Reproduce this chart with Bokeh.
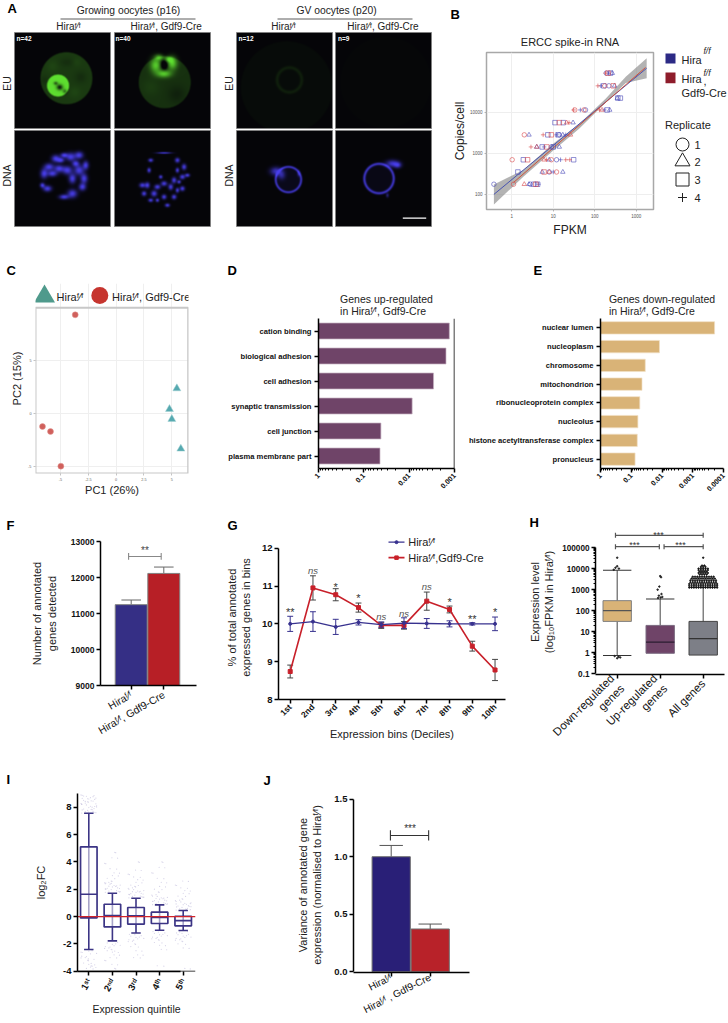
import math
import numpy as np
from bokeh.plotting import figure
from bokeh.layouts import column, row
from bokeh.models import Range1d, FactorRange, FixedTicker, Label, Span, Title
from bokeh.embed import file_html
from bokeh.resources import INLINE

FF = "\u1da0\u2044\u1da0"
HIRA = "Hira" + FF
CRE = "Hira" + FF + ", Gdf9-Cre"
FONT = "Liberation Sans"

eu1 = [("d",51.7,46,26,.24),("g",66,45,4,4,-.06),("g",52,30,5,3,-.05),("g",38,34,4,4,.05),("g",60,60,4,4,.05),("g",30,48,3,3,-.05),("g",62,30,3,3,.04),
       ("d",43.3,53.3,11,.75),("g",45,55,2.2,2,-.9),("g",41,51,1.5,1.2,-.6),("g",50,59,1.5,1.5,-.5)]
eu2 = [("d",50,50,26,.2),("g",62,62,6,6,-.07),("g",36,55,6,6,.05),
       ("g",41,33,3.8,5,.7),("g",57.5,31,3.5,4.5,.7),("g",49.3,41.5,5,2.6,.7),("g",44.3,25,3,2,.6),("g",54,27,3,2,.6),
       ("g",49.5,32.5,2.4,3.2,-.75)]
eu3 = [("d",50,55,46,.03),("r",52.7,47.7,12.3,1.2,.09)]
eu4 = [("d",50,50,46,.012)]
dna1_zoom = [(210,470,4,3.5),(235,465,3.5,3),(165,475,3.5,3),(145,500,4,3),(130,520,3,4),(200,510,4,3.5),(235,510,4,4),
             (255,495,2.5,3.5),(250,535,3,4),(245,560,3,3),(215,580,4,3.5),(190,590,4,2),(140,565,3.5,2.5),(215,535,3,4),
             (175,505,4,3),(125,555,2,2),(225,490,3,2.5),(190,465,3,2),(155,520,4,2.5),(180,480,3,2)]
dna2_zoom = [(490,458,6,.7),(450,480,2,1.5),(530,480,2,2),(550,500,2,2.5),(545,530,2.2,2),(560,525,2,1.5),(520,540,2,2.5),
             (490,550,2.5,2),(510,560,2,2.5),(470,560,2.5,2),(440,555,2,2.5),(425,555,2.5,2),(430,580,2,2),(460,580,2.5,2.5),
             (490,590,2,2),(520,590,2,2),(500,615,2,1.5),(450,600,2,1.5),(545,565,2,2),(530,570,1.5,2),(480,530,1.5,1.5),
             (445,510,1.5,2),(530,510,1.5,2),(470,600,1.5,1.5),(535,545,1.5,1.5)]
dna3 = [("r",51.7,49.3,12.7,.8,.85),("g",39.3,41,4,2.8,.8),("g",45,45,2.5,3,.5),("g",62,43.3,1,2,.5),("d",51.7,49.3,12,.08)]
dna4 = [("r",43.3,48.3,14.7,.9,.85),("g",56.7,33.3,4.5,2.4,.85),("g",62,35,2.5,2,.7),("g",51.7,65,1,1.5,.5),("d",43.3,48.3,14,.06)]
n_labels = ["n=42", "n=40", "n=12", "n=9"]

ercc_x_ticks = [1, 10, 100, 1000]
ercc_y_ticks = [100, 1000, 10000]
blue_circle = [(.37,177),(190,91000),(220,44600),(60,11500),(14,2840),(9,1440),(12,700),(2.8,177),(8,352)]
blue_tri = [(265,91000),(300,44600),(350,22400),(30,5640),(2.6,2840),(17,2840),(4,1440),(14,1440),(8,700),(5.4,352),(17,352),(2.6,177),(230,11500)]
blue_square = [(165,44600),(240,91000),(360,22400),(415,22400),(11,5640),(17.4,5640),(7.4,2840),(13,2840),(5.4,1440),(10,1440),(1.9,700),(31,700),(3.4,177),(4.2,177),(1.4,352),(200,11500)]
blue_plus = [(219,91000),(140,44600),(45,11500),(170,11500),(12,2840),(6,1440),(15,700),(4.4,177),(20,2840),(10,352)]
red_circle = [(1.02,700),(2,2840),(55,11500),(1.1,177),(175,44600),(12,352),(9,700),(33,11500)]
red_tri = [(2,177),(26,2840),(4,1440),(21,5640),(150,11500),(6,700),(8,352)]
red_square = [(14,5640),(2.4,700),(6,352),(3.8,177),(280,44600),(9,2840),(7,1440),(210,91000)]
red_plus = [(182,91000),(119,44600),(31,11500),(24,5640),(5.7,2840),(2.9,1440),(6.9,700),(20,700),(25,700),(130,11500)]
blue_fit_x = [.37, 1790]
blue_fit_y = [100, 120000]
red_fit_x = [1.1, 1680]
red_fit_y = [195, 125000]
band_x = [.37, 1.9, 9.7, 42, 185, 560, 1790]
band_lo = [57, 270, 1150, 4000, 17500, 52000, 68000]
band_hi = [174, 395, 1700, 5200, 22000, 74000, 210000]

c_tick_x = [-5, -2.5, 0, 2.5, 5]
c_tick_y = [-5, 0, 5]
ko_pc1 = [-3.68, -6.62, -5.9, -4.97]
ko_pc2 = [9.31, -1.23, -1.7, -4.97]
wt_pc1 = [5.45, 4.79, 5.0, 5.81]
wt_pc2 = [2.36, 0.41, -0.53, -3.33]

d_terms = ["cation binding", "biological adhesion", "cell adhesion", "synaptic transmission", "cell junction", "plasma membrane part"]
d_p = [0.0013, 0.00154, 0.0029, 0.0086, 0.042, 0.044]
e_terms = ["nuclear lumen", "nucleoplasm", "chromosome", "mitochondrion", "ribonucleoprotein complex", "nucleolus",
           "histone acetyltransferase complex", "pronucleus"]
e_p = [0.000195, 0.0121, 0.035, 0.0447, 0.0527, 0.0608, 0.0637, 0.0752]

f_labels = [HIRA, CRE]
f_values = [11245, 12113]
f_errtop = [11375, 12290]
f_ticks = [9000, 10000, 11000, 12000, 13000]

g_labels = ["1st","2nd","3rd","4th","5th","6th","7th","8th","9th","10th"]
g_x = [1,2,3,4,5,6,7,8,9,10]
g_wt = [10.0,10.06,9.92,10.04,9.98,10.02,10.01,10.0,10.0,10.0]
g_wt_err = [.2,.26,.2,.07,.07,.14,.13,.08,.03,.18]
g_ko = [8.74,10.95,10.77,10.43,9.96,9.96,10.6,10.38,9.41,8.78]
g_ko_err = [.17,.32,.16,.12,.08,.1,.24,.09,.13,.28]
g_sig = ["**","ns","*","*","ns","ns","ns","*","**","*"]
g_sig_y = [10.3,11.42,10.98,10.67,10.2,10.27,11.0,10.58,10.14,10.3]

h_labels = ["Down-regulated\ngenes", "Up-regulated\ngenes", "All genes"]
h_q1 = [31, 0.95, 0.78]
h_med = [100, 3.2, 4.7]
h_q3 = [300, 20, 31]
h_lo = [0.74, 0.95, 0.78]
h_hi = [8300, 360, 1300]
h_out0 = [33000, 13000, 11000, 10000, 8800, 0.7, 0.65, 0.6, 0.55]
h_out0_off = [0, 0, -.04, .04, -.08, -.06, .03, .07, 0]
h_out1 = [4400, 3900, 1400, 1000, 620, 520, 450, 420, 400]
h_out1_off = [0, .02, -.02, -.06, .03, -.03, .05, .01, -.05]
h_rows = [1250,1520,1860,2270,2770,3380,4120,5200,6200,7200,8500,10000,12000,14000,33000]
h_row_n = [13,13,13,12,12,11,10,4,5,4,5,5,3,2,1]

i_labels = ["1\u02e2\u1d57","2\u207f\u1d48","3\u02b3\u1d48","4\u1d57\u02b0","5\u1d57\u02b0"]
i_q1 = [-.1,-.76,-.56,-.51,-.68]
i_med = [1.63,.07,.05,-.07,-.3]
i_q3 = [5.1,.9,.66,.32,.02]
i_lo = [-2.41,-1.78,-1.2,-1.0,-1.02]
i_hi = [7.56,1.7,1.34,.85,.44]
i_clouds = [
 [7.6,7.7,7.8,7.9,8,8.1,8.2,8.3,8.4,8.5,8.6,8.7,8.8,8.9,7.65,7.85,8.05,8.25,8.45,8.65,8.85,-2.5,-2.7,-2.9,-3.0,-3.2,-3.4,-3.5,-3.7,-3.8,-2.6,-3.1,-3.6],
 [1.8,1.9,2,2.1,2.2,2.3,2.4,2.5,2.6,2.8,3,3.2,3.5,3.9,4.3,4.7,1.85,2.05,2.25,2.45,-1.9,-2,-2.1,-2.2,-2.3,-2.4,-2.5,-2.6,-2.8,-3,-3.2,-3.5,-3.8],
 [1.4,1.5,1.6,1.7,1.8,1.9,2,2.1,2.2,2.3,2.5,2.7,2.9,3.1,3.4,4,1.45,1.65,1.85,-1.3,-1.4,-1.5,-1.6,-1.7,-1.8,-2,-2.2,-2.5,-2.8,-3],
 [.9,1,1.1,1.2,1.3,1.4,1.5,1.6,1.8,2,2.2,2.5,2.8,3.2,3.6,4,.95,1.15,1.35,-1.1,-1.2,-1.3,-1.4,-1.5,-1.6,-1.7,-1.9,-2.1,-2.4,-3.6],
 [.5,.6,.7,.8,.9,1,1.1,1.2,1.3,1.5,1.7,1.9,2.1,2.3,2.6,.55,.75,.95,-1.1,-1.2,-1.3,-1.4,-1.5,-1.6,-1.7,-1.8,-2,-2.3,-3.8],
]
i_offsets = [-.3,.1,-.15,.25,-.05,.3,-.22,.18,0,-.28,.07,.22,-.1,.14,-.33,.33,-.02]

j_labels = [HIRA, HIRA + " , Gdf9-Cre"]
j_values = [1.0, 0.372]
j_errtop = [1.098, 0.415]
j_ticks = [0, .5, 1, 1.5]

FRAMES = {}

def lin(p0, p1, pa, va, pb, vb):
    s = (vb - va) / (pb - pa)
    return Range1d(va + (p0 - pa) * s, va + (p1 - pa) * s)

def logr(p0, p1, pa, va, pb, vb):
    la, lb = math.log10(va), math.log10(vb)
    s = (lb - la) / (pb - pa)
    return Range1d(10 ** (la + (p0 - pa) * s), 10 ** (la + (p1 - pa) * s))

def make(cell, frame, xr, yr, **kw):
    cx0, cy0, cx1, cy1 = cell
    fx0, fy0, fx1, fy1 = frame
    p = figure(width=cx1 - cx0, height=cy1 - cy0, x_range=xr, y_range=yr, output_backend="svg", toolbar_location=None,
               min_border_left=fx0 - cx0, min_border_right=cx1 - fx1, min_border_top=fy0 - cy0, min_border_bottom=cy1 - fy1,
               outline_line_color=None, frame_align=False, title=None, **kw)
    p.grid.visible = False
    p.background_fill_color = "white"
    p.border_fill_color = "white"
    FRAMES[p.id] = cell
    return p

def tl(p, text, x, y, size=10.5, style="normal", align="center", base="middle", angle=0, color="#222222"):
    c = FRAMES[p.id]
    p.add_layout(Label(x=x - c[0], y=y - c[1], x_units="canvas", y_units="canvas", text=text, text_font=FONT,
                       text_font_size=f"{size}px", text_font_style=style, text_align=align, text_baseline=base,
                       angle=angle, angle_units="deg", text_color=color))

def main_title(p, text, size, standoff):
    p.add_layout(Title(text=text, text_font=FONT, text_font_size=f"{size}px", text_font_style="normal", text_color="#222222",
                       align="center", standoff=standoff), "above")

def letter(p, text, offset, standoff, **kw):
    p.add_layout(Title(text=text, text_font=FONT, text_font_size="13px", text_font_style="bold", text_color="black",
                       align="left", offset=offset, standoff=standoff, **kw), "above")

def prism(ax, size=8.5, bold=True, width=1.5, tick=4):
    ax.axis_line_color = "black"
    ax.axis_line_width = width
    ax.major_tick_line_color = "black"
    ax.major_tick_line_width = width
    ax.major_tick_out = tick
    ax.major_tick_in = 0
    ax.minor_tick_out = 0
    ax.minor_tick_in = 0
    ax.major_label_text_font = FONT
    ax.major_label_text_font_size = f"{size}px"
    ax.major_label_text_font_style = "bold" if bold else "normal"
    ax.major_label_text_color = "#111111"
    ax.major_label_standoff = 2
    ax.axis_label_text_font = FONT
    ax.axis_label_text_font_style = "normal"
    ax.axis_label_text_font_size = "11px"
    ax.axis_label_text_color = "#222222"

def bracket(p, x0, x1, y, c0, c1, color="#555555", width=1.2):
    p.segment([x0, x0, x1], [y, c0, c0], [x1, x0, x1], [y, c1, c1], line_color=color, line_width=width)

def render(shapes, hi, bg=(5, 5, 8), n=192):
    g = (np.arange(n) + .5) * 96 / n
    xx, yy = np.meshgrid(g, g)
    im = np.zeros((n, n))
    for s in shapes:
        if s[0] == "g":
            _, x, y, sx, sy, a = s
            im += a * np.exp(-((xx - x) / sx) ** 2 / 2 - ((yy - y) / sy) ** 2 / 2)
        elif s[0] == "d":
            _, x, y, r, a = s
            im += a * np.clip(r + .7 - np.hypot(xx - x, yy - y), 0, 1.4) / 1.4
        else:
            _, x, y, r, w, a = s
            im += a * np.exp(-((np.hypot(xx - x, yy - y) - r) / w) ** 2 / 2)
    im = np.clip(im, 0, 1)
    rgba = np.zeros((n, n), dtype=np.uint32)
    v = rgba.view(dtype=np.uint8).reshape((n, n, 4))
    for k in range(3):
        v[:, :, k] = (bg[k] + im * (hi[k] - bg[k])).astype(np.uint8)
    v[:, :, 3] = 255
    return rgba[::-1]

pA = make((0, 0, 438, 250), (0, 0, 438, 250), Range1d(0, 438), Range1d(-250, 0))
pA.axis.visible = False
green = (95, 225, 48)
blue = (72, 62, 235)
def zoomed(lst, ox, oy, k=.82):
    return [("g", (a - ox) / 3, (b - oy) / 3, c * k, d * k, .95) for a, b, c, d in lst]
tiles = [(14, 32, eu1, green), (114, 32, eu2, green), (236, 32, eu3, green), (335, 32, eu4, green),
         (14, 130, zoomed(dna1_zoom, 42, 390), blue), (114, 130, zoomed(dna2_zoom, 342, 390), blue),
         (236, 130, dna3, blue), (335, 130, dna4, blue)]
for tx, ty, sh, col in tiles:
    pA.image_rgba(image=[render(sh, col)], x=tx, y=-(ty + 96), dw=96, dh=96)
    pA.quad(left=tx, right=tx + 96, bottom=-(ty + 96), top=-ty, fill_color=None, line_color="#808080", line_width=.8)
pA.segment([60, 277], [-18.5, -18.5], [195, 412], [-18.5, -18.5], line_color="#333333", line_width=.8)
pA.segment([402.3], [-217.7], [425.7], [-217.7], line_color="white", line_width=1.3)
tl(pA, "A", 7, 8, 13, "bold", "left", color="black")
tl(pA, "Growing oocytes (p16)", 128, 10, 10.3)
tl(pA, "GV oocytes (p20)", 336, 10, 10.3)
for x, t in [(68, HIRA), (165.7, CRE), (283, HIRA), (382.5, CRE)]:
    tl(pA, t, x, 26, 10)
for x, t in zip([16, 115, 238, 337.5], n_labels):
    tl(pA, t, x, 37.7, 6.5, "bold", "left", color="white")
for x in [6.5, 228]:
    tl(pA, "EU", x, 83, 10.5, angle=90)
    tl(pA, "DNA", x, 175, 10.5, angle=90)

fB = (486, 50, 653, 209)
pB = make((438, 0, 655, 250), fB, logr(486, 653, 511.3, 1, 635.7, 1000), logr(209, 50, 193.7, 100, 110.7, 10000),
          x_axis_type="log", y_axis_type="log")
pB.outline_line_color = "#a8a8a8"
pB.outline_line_width = 1.5
pB.grid.visible = True
pB.grid.grid_line_color = "#eeeeee"
pB.grid.minor_grid_line_color = "#f6f6f6"
for ax, ticks in ((pB.xaxis, ercc_x_ticks), (pB.yaxis, ercc_y_ticks)):
    prism(ax, 4.5, False, .5, 2)
    ax.axis_line_color = None
    ax.major_tick_line_color = "#777777"
    ax.major_label_text_color = "#555555"
    ax.ticker = FixedTicker(ticks=ticks)
    ax.major_label_overrides = {t: str(t) for t in ticks}
pB.xaxis.axis_label = "FPKM"
pB.yaxis.axis_label = "Copies/cell"
pB.xaxis.axis_label_text_font_size = "12px"
pB.yaxis.axis_label_text_font_size = "12px"
pB.xaxis.axis_label_standoff = 2
pB.yaxis.axis_label_standoff = 0
main_title(pB, "ERCC spike-in RNA", 11, 9)
letter(pB, "B", -36, 12, vertical_align="top")
pB.varea(band_x, band_lo, band_hi, fill_color="#8a8a8a", fill_alpha=.65)
pB.line(blue_fit_x, blue_fit_y, line_color="#3c48b0", line_width=.9)
pB.line(red_fit_x, red_fit_y, line_color="#d2482b", line_width=.9)
for pts, mk, col in [(blue_circle, "circle", "#4a4ab8"), (blue_tri, "triangle", "#4a4ab8"), (blue_square, "square", "#4a4ab8"),
                     (blue_plus, "cross", "#4a4ab8"), (red_circle, "circle", "#d8484a"), (red_tri, "triangle", "#d8484a"),
                     (red_square, "square", "#d8484a"), (red_plus, "cross", "#d8484a")]:
    pB.scatter([a for a, _ in pts], [b for _, b in pts], marker=mk, size=4.5, fill_color=None, line_color=col, line_width=.6)

pL = make((655, 0, 728, 250), (655, 0, 728, 250), Range1d(655, 728), Range1d(-250, 0))
pL.axis.visible = False
pL.quad(left=[665, 665], right=[675, 675], bottom=[-63, -82.7], top=[-53, -72], fill_color=["#2c2a85", "#8e1c2b"], line_color=None)
tl(pL, "Hira", 681, 59.5, 11, align="left")
tl(pL, "f/f", 703, 50, 8.5, "italic", "left")
tl(pL, "Hira", 681, 78.5, 11, align="left")
tl(pL, "f/f", 703, 72, 8.5, "italic", "left")
tl(pL, ",", 703, 80, 11, align="left")
tl(pL, "Gdf9-Cre", 681, 92, 11, align="left")
tl(pL, "Replicate", 664.5, 124.5, 11, align="left")
pL.scatter([682, 682, 682, 682], [-144, -161, -179, -197], marker=["circle", "triangle", "square", "cross"], size=[13, 15, 13, 9],
           fill_color=None, line_color="#222222", line_width=1)
for y, t in zip([144, 161, 179, 197], ["1", "2", "3", "4"]):
    tl(pL, t, 694, y, 11, align="left")

fC = (35, 283, 188, 473)
cx = lambda px: (px - 115.67) / 11.13
cy = lambda py: (413 - py) / 10.6
pC = make((0, 250, 225, 505), fC, Range1d(cx(35), cx(188)), Range1d(cy(473), cy(283)))
c_top, c_bot = cy(307.3), cy(473)
c_left, c_right = cx(35), cx(187.7)
pC.grid.visible = True
pC.grid.grid_line_color = "#efefef"
pC.xgrid.bounds = (c_bot, c_top)
pC.ygrid.bounds = (c_left, c_right)
pC.xgrid.ticker = FixedTicker(ticks=c_tick_x)
pC.ygrid.ticker = FixedTicker(ticks=c_tick_y)
for ax, ticks in ((pC.xaxis, c_tick_x), (pC.yaxis, c_tick_y)):
    prism(ax, 3.8, False, .5, 2)
    ax.axis_line_color = None
    ax.major_tick_line_color = "#888888"
    ax.major_label_text_color = "#666666"
    ax.ticker = FixedTicker(ticks=ticks)
    ax.major_label_overrides = {t: str(t) for t in ticks}
pC.xaxis.axis_label = "PC1 (26%)"
pC.yaxis.axis_label = "PC2 (15%)"
pC.yaxis.bounds = (c_bot, c_top)
pC.xaxis.axis_label_standoff = 0
pC.yaxis.axis_label_standoff = 2
pC.quad(left=c_left, right=c_right, bottom=c_bot, top=c_top, fill_color=None, line_color="#c8c8c8", line_width=2)
pC.scatter(ko_pc1, ko_pc2, marker="circle", size=6, fill_color="#d0605c", line_color="#e39a96", line_width=.5)
pC.scatter(wt_pc1, wt_pc2, marker="triangle", size=8, fill_color="#56a9b0", line_color="#a0d0d2", line_width=.5)
pC.scatter([cx(44)], [cy(296)], marker="triangle", size=21, fill_color="#4f9a8c", line_color=None)
pC.scatter([cx(99.3)], [cy(295)], marker="circle", size=17, fill_color="#c6352f", line_color=None)
tl(pC, HIRA, 56, 296, 11, align="left")
tl(pC, CRE, 111.5, 296, 11, align="left")
letter(pC, "C", -29, 11)

def enrich(cell, frame, terms, ps, color, line, ticks, hgt, title):
    pow_ticks = [10.0 ** -i for i in range(0, len(ticks))]
    minors = [k * t / 10 for t in pow_ticks[:-1] for k in range(2, 10)]
    p = make(cell, frame, Range1d(1, pow_ticks[-1]), FactorRange(factors=terms[::-1], factor_padding=0, range_padding=0), x_axis_type="log")
    prism(p.yaxis[0], 7.6, True, 1.5, 4)
    prism(p.xaxis[0], 7.2, True, 1.5, 4)
    p.xaxis.ticker = FixedTicker(ticks=pow_ticks, minor_ticks=minors)
    p.xaxis.major_label_overrides = dict(zip(pow_ticks, ticks))
    p.xaxis.minor_tick_out = 2
    p.xaxis.minor_tick_line_color = "black"
    p.xaxis.major_label_orientation = math.pi / 4
    p.yaxis.major_label_standoff = 3
    p.hbar(y=terms, left=1, right=ps, height=hgt, fill_color=color, line_color=line, line_width=.7)
    main_title(p, title, 10.5, 4)
    return p
pD = enrich((225, 250, 465, 505), (318, 318, 454, 468), d_terms, d_p, "#6f4468", "#c5b2c2", ["1", "0.1", "0.01", "0.001"], .64,
            "Genes up-regulated\nin " + CRE)
pD.add_layout(Span(location=0.001, dimension="height", line_color="black", line_width=1.5))
letter(pD, "D", -91, 21)
pE = enrich((465, 250, 728, 505), (594, 318, 723, 468), e_terms, e_p, "#d9b377", "#f0e0c4", ["1", "0.1", "0.01", "0.001", "0.0001"], .66,
            "Genes down-regulated\nin " + CRE)
letter(pE, "E", -67, 21)

pF = make((0, 505, 222, 760), (100, 541, 196, 685), lin(100, 196, 130.7, 0, 163.3, 1), lin(685, 541, 685, 9000, 541, 13000))
prism(pF.xaxis[0]); prism(pF.yaxis[0], 8.5)
pF.xaxis.ticker = FixedTicker(ticks=[0, 1])
pF.xaxis.major_label_overrides = dict(zip([0, 1], f_labels))
pF.xaxis.major_label_orientation = math.radians(30)
pF.xaxis.major_label_text_font_size = "10.5px"
pF.xaxis.major_label_text_font_style = "normal"
pF.xaxis.major_label_standoff = 4
pF.yaxis.ticker = FixedTicker(ticks=f_ticks)
pF.yaxis.axis_label = "Number of annotated\ngenes detected"
pF.yaxis.axis_label_standoff = 10
pF.segment([0, 1], f_values, [0, 1], f_errtop, line_color="#666666", line_width=1)
pF.segment([-.3, .7], f_errtop, [.3, 1.3], f_errtop, line_color="#666666", line_width=1)
pF.vbar(x=[0, 1], width=.98, bottom=9000, top=f_values, fill_color=["#352f85", "#b71f26"], line_color="#808080", line_width=1)
bracket(pF, -.08, .92, 12585, 12490, 12680, "#888888", 1.1)
tl(pF, "**", 144.5, 549.5, 10, color="#444444")
letter(pF, "F", -94, 18)

gx = lambda px: 1 + (px - 289.7) / 22.76
pG = make((222, 505, 525, 760), (278, 535, 505, 699), Range1d(gx(278), gx(505)), lin(699, 535, 699, 8, 547.7, 12))
prism(pG.xaxis[0], 8.5); prism(pG.yaxis[0], 9.5)
pG.yaxis.ticker = FixedTicker(ticks=[8, 9, 10, 11, 12])
pG.yaxis.bounds = (8, 12)
pG.xaxis.ticker = FixedTicker(ticks=g_x)
pG.xaxis.major_label_overrides = dict(zip(g_x, g_labels))
pG.xaxis.major_label_orientation = math.pi / 4
pG.xaxis.major_label_standoff = 2
pG.xaxis.axis_label = "Expression bins (Deciles)"
pG.xaxis.axis_label_standoff = 0
pG.yaxis.axis_label = "% of total annotated\nexpressed genes in bins"
pG.yaxis.axis_label_standoff = 7
g_wt_a = np.array(g_wt); g_wt_e = np.array(g_wt_err)
g_ko_a = np.array(g_ko); g_ko_e = np.array(g_ko_err)
xa = np.array(g_x, dtype=float)
pG.segment(xa, g_ko_a - g_ko_e, xa, g_ko_a + g_ko_e, line_color="#444444", line_width=1)
pG.segment(xa - .13, g_ko_a + g_ko_e, xa + .13, g_ko_a + g_ko_e, line_color="#444444", line_width=1)
pG.segment(xa - .13, g_ko_a - g_ko_e, xa + .13, g_ko_a - g_ko_e, line_color="#444444", line_width=1)
pG.line(g_x, g_ko, line_color="#c8202a", line_width=1.6)
pG.scatter(g_x, g_ko, marker="square", size=4, fill_color="#c8202a", line_color="#c8202a")
pG.segment(xa, g_wt_a - g_wt_e, xa, g_wt_a + g_wt_e, line_color="#38328f", line_width=1)
pG.segment(xa - .13, g_wt_a + g_wt_e, xa + .13, g_wt_a + g_wt_e, line_color="#38328f", line_width=1)
pG.segment(xa - .13, g_wt_a - g_wt_e, xa + .13, g_wt_a - g_wt_e, line_color="#38328f", line_width=1)
pG.line(g_x, g_wt, line_color="#38328f", line_width=1.4)
pG.scatter(g_x, g_wt, marker="circle", size=3, fill_color="#38328f", line_color="#38328f")
pG.line([gx(388), gx(404)], [12.16, 12.16], line_color="#38328f", line_width=1.4)
pG.scatter([gx(396)], [12.16], marker="circle", size=3, fill_color="#38328f", line_color="#38328f")
pG.line([gx(388), gx(404)], [11.75, 11.75], line_color="#c8202a", line_width=1.6)
pG.scatter([gx(396)], [11.75], marker="square", size=3.5, fill_color="#c8202a", line_color="#c8202a")
tl(pG, HIRA, 407.7, 541.5, 11, align="left")
tl(pG, "Hira" + FF + ",Gdf9-Cre", 407.7, 557, 11, align="left")
for x, s, y in zip(g_x, g_sig, g_sig_y):
    tl(pG, s, 289.7 + (x - 1) * 22.76, 699 - (y - 8) * 37.83, 9.5 if s == "ns" else 11,
       "italic" if s == "ns" else "normal", color="#555555" if s == "ns" else "#333333")
letter(pG, "G", -51, 6)

pH = make((525, 505, 728, 760), (589, 529, 724, 684), lin(589, 724, 611.7, 0, 656.7, 1), logr(684, 529, 683.3, .1, 548.3, 100000), y_axis_type="log")
prism(pH.xaxis[0]); prism(pH.yaxis[0], 8.2)
pH.xaxis.ticker = FixedTicker(ticks=[0, 1, 2])
pH.xaxis.major_label_overrides = dict(zip([0, 1, 2], h_labels))
pH.xaxis.major_label_orientation = math.pi / 4
pH.xaxis.major_label_text_font_size = "11.5px"
pH.xaxis.major_label_text_font_style = "normal"
pH.xaxis.major_label_standoff = 3
h_major = [.1, 1, 10, 100, 1000, 10000, 100000]
pH.yaxis.ticker = FixedTicker(ticks=h_major, minor_ticks=[k * t for t in h_major[:-1] for k in range(2, 10)])
pH.yaxis.major_label_overrides = {t: str(t) for t in h_major}
pH.yaxis.minor_tick_out = 2
pH.yaxis.minor_tick_line_color = "black"
pH.yaxis.bounds = (.1, 100000)
pH.yaxis.axis_label = "Expression level\n(log\u2081\u2080FPKM in Hira" + FF + ")"
pH.yaxis.axis_label_standoff = 4
hx = [0, 1, 2]
pH.segment(hx, h_lo, hx, h_hi, line_color="#555555", line_width=1.1)
pH.segment([-.33, .67, 1.67], h_hi, [.33, 1.33, 2.33], h_hi, line_color="#333333", line_width=1.1)
pH.segment([-.33], h_lo[:1], [.33], h_lo[:1], line_color="#333333", line_width=1.1)
pH.quad(left=[-.33, .67, 1.67], right=[.33, 1.33, 2.33], bottom=h_q1, top=h_q3, fill_color=["#d9b377", "#6f4468", "#7d7f87"],
        line_color=["#808080", "#7a6a80", "#444444"], line_width=1)
pH.segment([-.33, .67, 1.67], h_med, [.33, 1.33, 2.33], h_med, line_color=["#555555", "#2a1c30", "#333333"], line_width=1.2)
pH.scatter(h_out0_off, h_out0, marker="circle", size=1.5, color="#222222")
pH.scatter([1 + d for d in h_out1_off], h_out1, marker="circle", size=1.5, color="#222222")
sx, sy = [], []
for v, n in zip(h_rows, h_row_n):
    for j in range(n):
        sx.append(2 + (j - (n - 1) / 2) * .054)
        sy.append(v)
pH.scatter(sx, sy, marker="circle", size=1.4, color="#111111")
bracket(pH, -.04, 2, 378000, 290000, 500000)
bracket(pH, -.04, .98, 110000, 84000, 145000)
bracket(pH, 1.09, 2, 110000, 84000, 145000)
tl(pH, "***", 658, 534, 9, color="#333333")
tl(pH, "***", 634, 544, 9, color="#333333")
tl(pH, "***", 680, 544, 9, color="#333333")
letter(pH, "H", -66, 0)

ix = lambda px: (px - 88.3) / 23.6
pI = make((0, 760, 262, 1023), (77, 793, 195, 971), Range1d(ix(77), ix(195)), lin(971, 793, 970.7, -4, 806.7, 8))
prism(pI.xaxis[0], 9.5); prism(pI.yaxis[0], 9.5)
i_x = [0, 1, 2, 3, 4]
pI.xaxis.ticker = FixedTicker(ticks=i_x)
pI.xaxis.bounds = (ix(77), ix(180))
pI.add_layout(Span(location=-4.02, dimension="width", line_color="black", line_width=1.5))
pI.xaxis.major_label_overrides = dict(zip(i_x, i_labels))
pI.xaxis.major_label_orientation = math.radians(60)
pI.xaxis.major_label_standoff = 4
pI.xaxis.axis_label = "Expression quintile"
pI.xaxis.axis_label_text_font_size = "10.5px"
pI.xaxis.axis_label_standoff = 4
pI.yaxis.ticker = FixedTicker(ticks=[-4, -2, 0, 2, 4, 6, 8])
pI.yaxis.major_label_overrides = {-4: "-4", -2: "-2", 0: "0", 2: "2", 4: "4", 6: "6", 8: "8"}
pI.yaxis.axis_label = "log\u2082FC"
pI.yaxis.axis_label_standoff = 13
for k, vals in enumerate(i_clouds):
    for shift in range(2):
        xs = [k + i_offsets[(m * 2 + shift * 5) % len(i_offsets)] for m in range(len(vals))]
        ys = [v + (shift - 1) * .03 for v in vals]
        pI.scatter(xs, ys, marker="circle", size=1.2, fill_color="#c4c1de", line_color=None, fill_alpha=.7)
I_C = "#3c3585"
pI.segment(i_x, i_lo, i_x, i_hi, line_color=I_C, line_width=1.6)
pI.quad(left=[k - .35 for k in i_x], right=[k + .35 for k in i_x], bottom=i_q1, top=i_q3, fill_color="white", fill_alpha=.55, line_color=I_C, line_width=1.7)
pI.segment([k - .35 for k in i_x], i_med, [k + .35 for k in i_x], i_med, line_color=I_C, line_width=1.7)
pI.segment([k - .2 for k in i_x], i_hi, [k + .2 for k in i_x], i_hi, line_color=I_C, line_width=1.6)
pI.segment([k - .2 for k in i_x], i_lo, [k + .2 for k in i_x], i_lo, line_color=I_C, line_width=1.6)
pI.line([ix(77), ix(195)], [0, 0], line_color="#d1232a", line_width=1.3)
letter(pI, "I", -71, 14)

pJ = make((262, 760, 728, 1023), (353, 796, 469, 972), lin(353, 469, 390.7, 0, 429.7, 1), lin(972, 796, 971.3, 0, 797.7, 1.5))
prism(pJ.xaxis[0]); prism(pJ.yaxis[0], 9.5)
pJ.xaxis.ticker = FixedTicker(ticks=[0, 1])
pJ.xaxis.major_label_overrides = dict(zip([0, 1], j_labels))
pJ.xaxis.major_label_orientation = math.radians(27)
pJ.xaxis.major_label_text_font_size = "10px"
pJ.xaxis.major_label_text_font_style = "normal"
pJ.xaxis.major_label_standoff = 0
pJ.yaxis.ticker = FixedTicker(ticks=j_ticks)
pJ.yaxis.bounds = (0, 1.5)
pJ.yaxis.major_label_overrides = {0: "0.0", .5: "0.5", 1: "1.0", 1.5: "1.5"}
pJ.yaxis.axis_label = "Variance of annotated gene\nexpression (normalised to Hira" + FF + ")"
pJ.yaxis.axis_label_standoff = 8
pJ.segment([0, 1], j_values, [0, 1], j_errtop, line_color="#555555", line_width=1)
pJ.segment([-.3, .7], j_errtop, [.3, 1.3], j_errtop, line_color="#555555", line_width=1)
pJ.vbar(x=[0, 1], width=.98, bottom=0, top=j_values, fill_color=["#291f77", "#b82229"], line_color="#6f6f6f", line_width=1)
bracket(pJ, -.02, .96, 1.184, 1.14, 1.23, "#333333", 1.1)
tl(pJ, "***", 409.5, 828, 10, color="#333333")
letter(pJ, "J", -90, 20)

layout = column(row(pA, pB, pL, spacing=0), row(pC, pD, pE, spacing=0), row(pF, pG, pH, spacing=0), row(pI, pJ, spacing=0), spacing=0)
open("out.html", "w").write(file_html(layout, INLINE))
